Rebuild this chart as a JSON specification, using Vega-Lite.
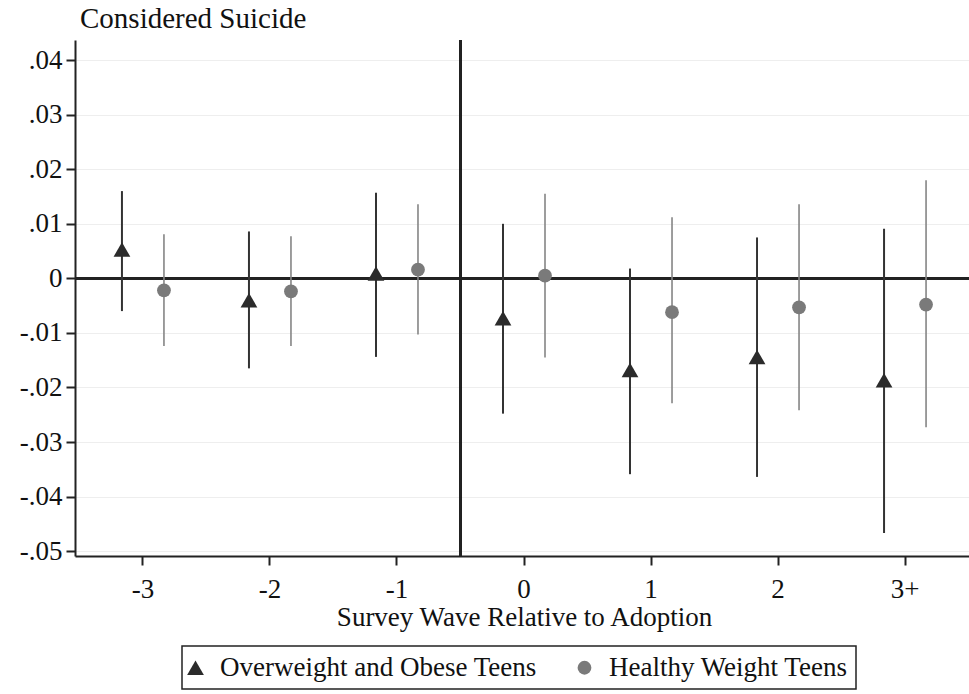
{
  "$schema": "https://vega.github.io/schema/vega-lite/v6.json",
  "width": 898,
  "height": 516,
  "autosize": "none",
  "padding": {"left": 75, "top": 40, "right": 0, "bottom": 138},
  "background": "white",
  "config": {
    "font": "Liberation Serif",
    "view": {"stroke": null},
    "axis": {
      "domainColor": "#222222",
      "domainWidth": 2,
      "tickColor": "#222222",
      "tickWidth": 2,
      "tickSize": 9,
      "labelFont": "Liberation Serif",
      "labelFontSize": 27,
      "labelColor": "#111111",
      "titleFont": "Liberation Serif",
      "titleFontSize": 27,
      "titleFontWeight": "normal",
      "titleColor": "#111111"
    },
    "legend": {
      "orient": "none",
      "legendX": 107,
      "legendY": 606,
      "direction": "horizontal",
      "strokeColor": "#222222",
      "strokeWidth": 1.5,
      "padding": 8,
      "labelFont": "Liberation Serif",
      "labelFontSize": 27,
      "labelColor": "#111111",
      "labelLimit": 0,
      "labelOffset": 11,
      "symbolOffset": -8,
      "columnPadding": 40,
      "symbolStrokeWidth": 0,
      "symbolOpacity": 1
    }
  },
  "title": {
    "text": "Considered Suicide",
    "anchor": "start",
    "frame": "group",
    "dx": 5,
    "offset": 5,
    "fontSize": 29,
    "fontWeight": "normal",
    "font": "Liberation Serif",
    "color": "#111111"
  },
  "data": {
    "values": [
      {"wave": "-3", "series": "Overweight and Obese Teens", "est": 0.0053, "lo": -0.0060, "hi": 0.0160},
      {"wave": "-2", "series": "Overweight and Obese Teens", "est": -0.0040, "lo": -0.0165, "hi": 0.0086},
      {"wave": "-1", "series": "Overweight and Obese Teens", "est": 0.0009, "lo": -0.0144, "hi": 0.0157},
      {"wave": "0", "series": "Overweight and Obese Teens", "est": -0.0073, "lo": -0.0248, "hi": 0.0100},
      {"wave": "1", "series": "Overweight and Obese Teens", "est": -0.0168, "lo": -0.0359, "hi": 0.0018},
      {"wave": "2", "series": "Overweight and Obese Teens", "est": -0.0144, "lo": -0.0364, "hi": 0.0075},
      {"wave": "3+", "series": "Overweight and Obese Teens", "est": -0.0187, "lo": -0.0467, "hi": 0.0091},
      {"wave": "-3", "series": "Healthy Weight Teens", "est": -0.0022, "lo": -0.0124, "hi": 0.0081},
      {"wave": "-2", "series": "Healthy Weight Teens", "est": -0.0024, "lo": -0.0124, "hi": 0.0077},
      {"wave": "-1", "series": "Healthy Weight Teens", "est": 0.0016, "lo": -0.0103, "hi": 0.0136},
      {"wave": "0", "series": "Healthy Weight Teens", "est": 0.0005, "lo": -0.0145, "hi": 0.0155},
      {"wave": "1", "series": "Healthy Weight Teens", "est": -0.0062, "lo": -0.0229, "hi": 0.0112},
      {"wave": "2", "series": "Healthy Weight Teens", "est": -0.0053, "lo": -0.0242, "hi": 0.0136},
      {"wave": "3+", "series": "Healthy Weight Teens", "est": -0.0048, "lo": -0.0273, "hi": 0.0180}
    ]
  },
  "layer": [
    {
      "mark": {"type": "rule", "color": "#222222", "strokeWidth": 2},
      "encoding": {
        "y": {"datum": 0, "type": "quantitative"}
      }
    },
    {
      "mark": {"type": "rule", "color": "#222222", "strokeWidth": 2},
      "encoding": {
        "x": {"datum": "0", "type": "ordinal", "bandPosition": 0}
      }
    },
    {
      "transform": [{"filter": "datum.series == 'Overweight and Obese Teens'"}],
      "mark": {"type": "rule", "color": "#333333", "strokeWidth": 2},
      "encoding": {
        "x": {
          "field": "wave",
          "type": "ordinal",
          "scale": {"type": "band", "domain": ["-3", "-2", "-1", "0", "1", "2", "3+"], "paddingInner": 0, "paddingOuter": 0.035},
          "axis": {"title": "Survey Wave Relative to Adoption", "labelAngle": 0, "labelAlign": "center", "labelBaseline": "top", "labelPadding": 11, "titlePadding": 2, "grid": false}
        },
        "xOffset": {
          "field": "series",
          "type": "nominal",
          "scale": {"domain": ["Overweight and Obese Teens", "Healthy Weight Teens"], "paddingOuter": 0.512, "paddingInner": 0}
        },
        "y": {
          "field": "lo",
          "type": "quantitative",
          "scale": {"domain": [-0.0509, 0.0437], "nice": false, "zero": false},
          "axis": {
            "title": null,
            "values": [-0.05, -0.04, -0.03, -0.02, -0.01, 0, 0.01, 0.02, 0.03, 0.04],
            "labelExpr": "datum.value == 0 ? '0' : (datum.value < 0 ? '-' : '') + replace(format(abs(datum.value), '.2f'), '0.', '.')",
            "labelPadding": 4,
            "grid": true,
            "gridColor": "#eeeeee",
            "gridWidth": 1
          }
        },
        "y2": {"field": "hi"}
      }
    },
    {
      "transform": [{"filter": "datum.series == 'Healthy Weight Teens'"}],
      "mark": {"type": "rule", "color": "#858585", "strokeWidth": 1.6},
      "encoding": {
        "x": {"field": "wave", "type": "ordinal"},
        "xOffset": {"field": "series", "type": "nominal"},
        "y": {"field": "lo", "type": "quantitative"},
        "y2": {"field": "hi"}
      }
    },
    {
      "mark": {"type": "point", "filled": true, "opacity": 1},
      "encoding": {
        "x": {"field": "wave", "type": "ordinal"},
        "xOffset": {"field": "series", "type": "nominal"},
        "y": {"field": "est", "type": "quantitative"},
        "shape": {
          "field": "series",
          "type": "nominal",
          "title": null,
          "scale": {"domain": ["Overweight and Obese Teens", "Healthy Weight Teens"], "range": ["triangle-up", "circle"]}
        },
        "fill": {
          "field": "series",
          "type": "nominal",
          "title": null,
          "scale": {"domain": ["Overweight and Obese Teens", "Healthy Weight Teens"], "range": ["#2b2b2b", "#7a7a7a"]}
        },
        "size": {
          "field": "series",
          "type": "nominal",
          "title": null,
          "scale": {"domain": ["Overweight and Obese Teens", "Healthy Weight Teens"], "range": [280, 190]}
        }
      }
    }
  ]
}
